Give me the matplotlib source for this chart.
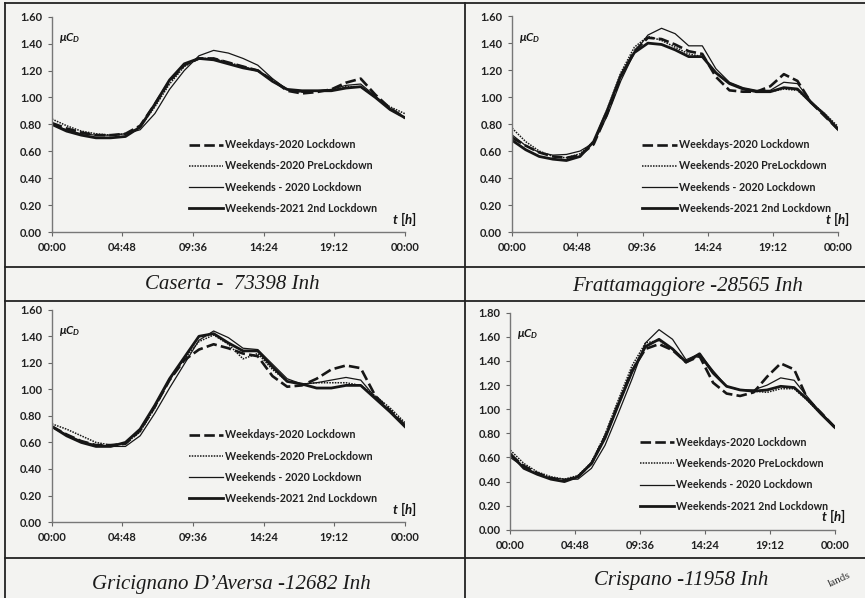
import numpy as np
import matplotlib
matplotlib.use("Agg")
import matplotlib.pyplot as plt
from matplotlib.lines import Line2D

plt.rcParams['mathtext.fontset'] = 'custom'
plt.rcParams['mathtext.it'] = 'Lato:italic:bold'
plt.rcParams['mathtext.rm'] = 'Lato:bold'

hours = list(range(25))
xtick_pos = [0, 4.8, 9.6, 14.4, 19.2, 24]
xtick_lab = ['00:00', '04:48', '09:36', '14:24', '19:12', '00:00']
labels = ['Weekdays-2020 Lockdown', 'Weekends-2020 PreLockdown',
          'Weekends - 2020 Lockdown', 'Weekends-2021 2nd Lockdown']

# Caserta
cas_wd = [0.81,0.77,0.74,0.72,0.72,0.73,0.79,0.95,1.12,1.24,1.29,1.29,1.26,1.23,1.20,1.13,1.05,1.03,1.04,1.06,1.11,1.14,1.02,0.92,0.85]
cas_pre = [0.84,0.79,0.75,0.73,0.72,0.73,0.78,0.93,1.10,1.23,1.29,1.29,1.26,1.23,1.20,1.13,1.06,1.04,1.05,1.05,1.08,1.08,1.00,0.93,0.88]
cas_wl = [0.80,0.76,0.73,0.72,0.72,0.73,0.76,0.88,1.06,1.20,1.31,1.35,1.33,1.29,1.24,1.14,1.06,1.04,1.05,1.06,1.09,1.10,1.01,0.92,0.85]
cas_w21 = [0.80,0.75,0.72,0.70,0.70,0.71,0.78,0.95,1.13,1.25,1.29,1.28,1.25,1.22,1.20,1.12,1.06,1.05,1.05,1.05,1.07,1.08,1.00,0.91,0.85]

# Frattamaggiore
fra_wd = [0.70,0.64,0.59,0.56,0.55,0.57,0.65,0.88,1.15,1.34,1.44,1.43,1.39,1.34,1.32,1.15,1.05,1.04,1.04,1.08,1.17,1.12,0.96,0.86,0.76]
fra_pre = [0.77,0.67,0.60,0.56,0.55,0.58,0.67,0.91,1.18,1.37,1.45,1.42,1.37,1.32,1.30,1.18,1.10,1.06,1.04,1.04,1.06,1.05,0.96,0.88,0.78]
fra_wl = [0.72,0.64,0.59,0.57,0.575,0.60,0.66,0.86,1.12,1.33,1.46,1.51,1.47,1.38,1.38,1.21,1.11,1.07,1.05,1.05,1.11,1.10,0.97,0.87,0.76]
fra_w21 = [0.68,0.61,0.56,0.54,0.53,0.56,0.67,0.90,1.16,1.33,1.40,1.39,1.35,1.30,1.30,1.18,1.10,1.06,1.04,1.04,1.07,1.06,0.96,0.87,0.76]

# Gricignano D'Aversa
gri_wd = [0.72,0.66,0.61,0.58,0.58,0.59,0.69,0.87,1.07,1.22,1.30,1.34,1.31,1.27,1.25,1.10,1.02,1.03,1.08,1.15,1.18,1.16,0.95,0.84,0.73]
gri_pre = [0.74,0.70,0.65,0.60,0.58,0.59,0.68,0.86,1.07,1.23,1.36,1.41,1.34,1.23,1.27,1.15,1.06,1.04,1.05,1.05,1.05,1.03,0.95,0.86,0.75]
gri_wl = [0.72,0.66,0.61,0.58,0.57,0.57,0.65,0.82,1.01,1.19,1.37,1.44,1.39,1.31,1.30,1.19,1.08,1.04,1.05,1.07,1.09,1.07,0.94,0.84,0.73]
gri_w21 = [0.72,0.65,0.60,0.57,0.57,0.60,0.70,0.88,1.08,1.24,1.40,1.42,1.35,1.29,1.29,1.17,1.06,1.04,1.01,1.01,1.03,1.03,0.93,0.83,0.72]

# Crispano
cri_wd = [0.62,0.53,0.47,0.43,0.41,0.44,0.55,0.77,1.05,1.32,1.50,1.54,1.49,1.39,1.44,1.22,1.13,1.11,1.14,1.27,1.38,1.33,1.08,0.97,0.85]
cri_pre = [0.66,0.55,0.48,0.44,0.42,0.45,0.56,0.79,1.08,1.36,1.55,1.57,1.50,1.40,1.44,1.30,1.19,1.16,1.15,1.14,1.17,1.17,1.07,0.96,0.85]
cri_wl = [0.60,0.52,0.46,0.43,0.42,0.42,0.51,0.70,0.97,1.25,1.55,1.66,1.58,1.41,1.46,1.32,1.19,1.16,1.16,1.20,1.26,1.24,1.10,0.97,0.86]
cri_w21 = [0.63,0.51,0.46,0.42,0.40,0.44,0.55,0.76,1.04,1.31,1.52,1.58,1.50,1.39,1.46,1.30,1.19,1.16,1.15,1.16,1.19,1.18,1.08,0.96,0.85]

panels = [
    ("Caserta -  73398 Inh", [cas_wd, cas_pre, cas_wl, cas_w21], 1.6, [0.060, 0.612, 0.408, 0.360], (0.268, 0.524), 0.36),
    ("Frattamaggiore -28565 Inh", [fra_wd, fra_pre, fra_wl, fra_w21], 1.6, [0.592, 0.612, 0.377, 0.361], (0.795, 0.521), 0.37),
    ("Gricignano D\u2019Aversa -12682 Inh", [gri_wd, gri_pre, gri_wl, gri_w21], 1.6, [0.060, 0.127, 0.408, 0.355], (0.268, 0.022), 0.36),
    ("Crispano -11958 Inh", [cri_wd, cri_pre, cri_wl, cri_w21], 1.8, [0.590, 0.114, 0.375, 0.363], (0.788, 0.030), 0.37),
]

styles = [dict(ls=(0, (4, 1.6)), lw=1.9), dict(ls=(0, (1, 0.8)), lw=1.1),
          dict(ls='-', lw=0.9), dict(ls='-', lw=2.0)]
ink = '#161616'

fig = plt.figure(figsize=(8.65, 5.98), dpi=100, facecolor='#f3f3f1')

for title, series, ymax, rect, cap, lx in panels:
    ax = fig.add_axes(rect)
    ax.set_facecolor('none')
    for s, st in zip(series, styles):
        ax.plot(hours, s, color=ink, **st)
    ax.set_xlim(0, 24)
    ax.set_ylim(0, ymax)
    yt = np.arange(0, ymax + 0.01, 0.2)
    ax.set_yticks(yt)
    ax.set_yticklabels(['%.2f' % v for v in yt])
    ax.set_xticks(xtick_pos)
    ax.set_xticklabels(xtick_lab)
    for sp in ['top', 'right']:
        ax.spines[sp].set_visible(False)
    for sp in ['left', 'bottom']:
        ax.spines[sp].set_color('#777777')
        ax.spines[sp].set_linewidth(1.0)
    ax.tick_params(length=3, width=0.8, color='#666666', pad=4)
    for lab in ax.get_xticklabels() + ax.get_yticklabels():
        lab.set_fontfamily('Lato')
        lab.set_fontweight('bold')
        lab.set_fontsize(8)
        lab.set_color('#202020')
    ax.text(0.02, 0.90, r'$\mu C_D$', transform=ax.transAxes, fontsize=8.5, color=ink, va='center')
    ax.text(1.035, 0.02, r'$t\ [h]$', transform=ax.transAxes, fontsize=9.5, color=ink,
            ha='right', va='bottom', clip_on=False)
    handles = [Line2D([], [], color=ink, **st) for st in styles]
    leg = ax.legend(handles, labels, loc='lower left', bbox_to_anchor=(lx, 0.04),
                    frameon=False, handlelength=3.2, handletextpad=0.2, labelspacing=0.95,
                    prop={'family': 'Lato', 'size': 7.7, 'weight': 'bold'})
    for t in leg.get_texts():
        t.set_color('#202020')
    fig.text(cap[0], cap[1], title, ha='center', va='center', fontsize=15,
             family='Liberation Serif', style='italic', color='#1a1a1a')

# table rules of the scanned page
rules = [
    ([0.006, 1.0], [0.995, 0.995]),
    ([0.006, 0.006], [0.0, 0.995]),
    ([0.5376, 0.5376], [0.0, 0.995]),
    ([0.006, 1.0], [0.5535, 0.5535]),
    ([0.006, 1.0], [0.4967, 0.4967]),
    ([0.006, 1.0], [0.0669, 0.0669]),
]
for xs, ys in rules:
    fig.add_artist(Line2D(xs, ys, transform=fig.transFigure, color='#222222', lw=1.3))

fig.text(0.985, 0.03, 'lands', fontsize=8, family='Liberation Serif', rotation=25,
         ha='right', va='center', color='#333333')

fig.savefig('out.png', dpi=100, facecolor=fig.get_facecolor())
